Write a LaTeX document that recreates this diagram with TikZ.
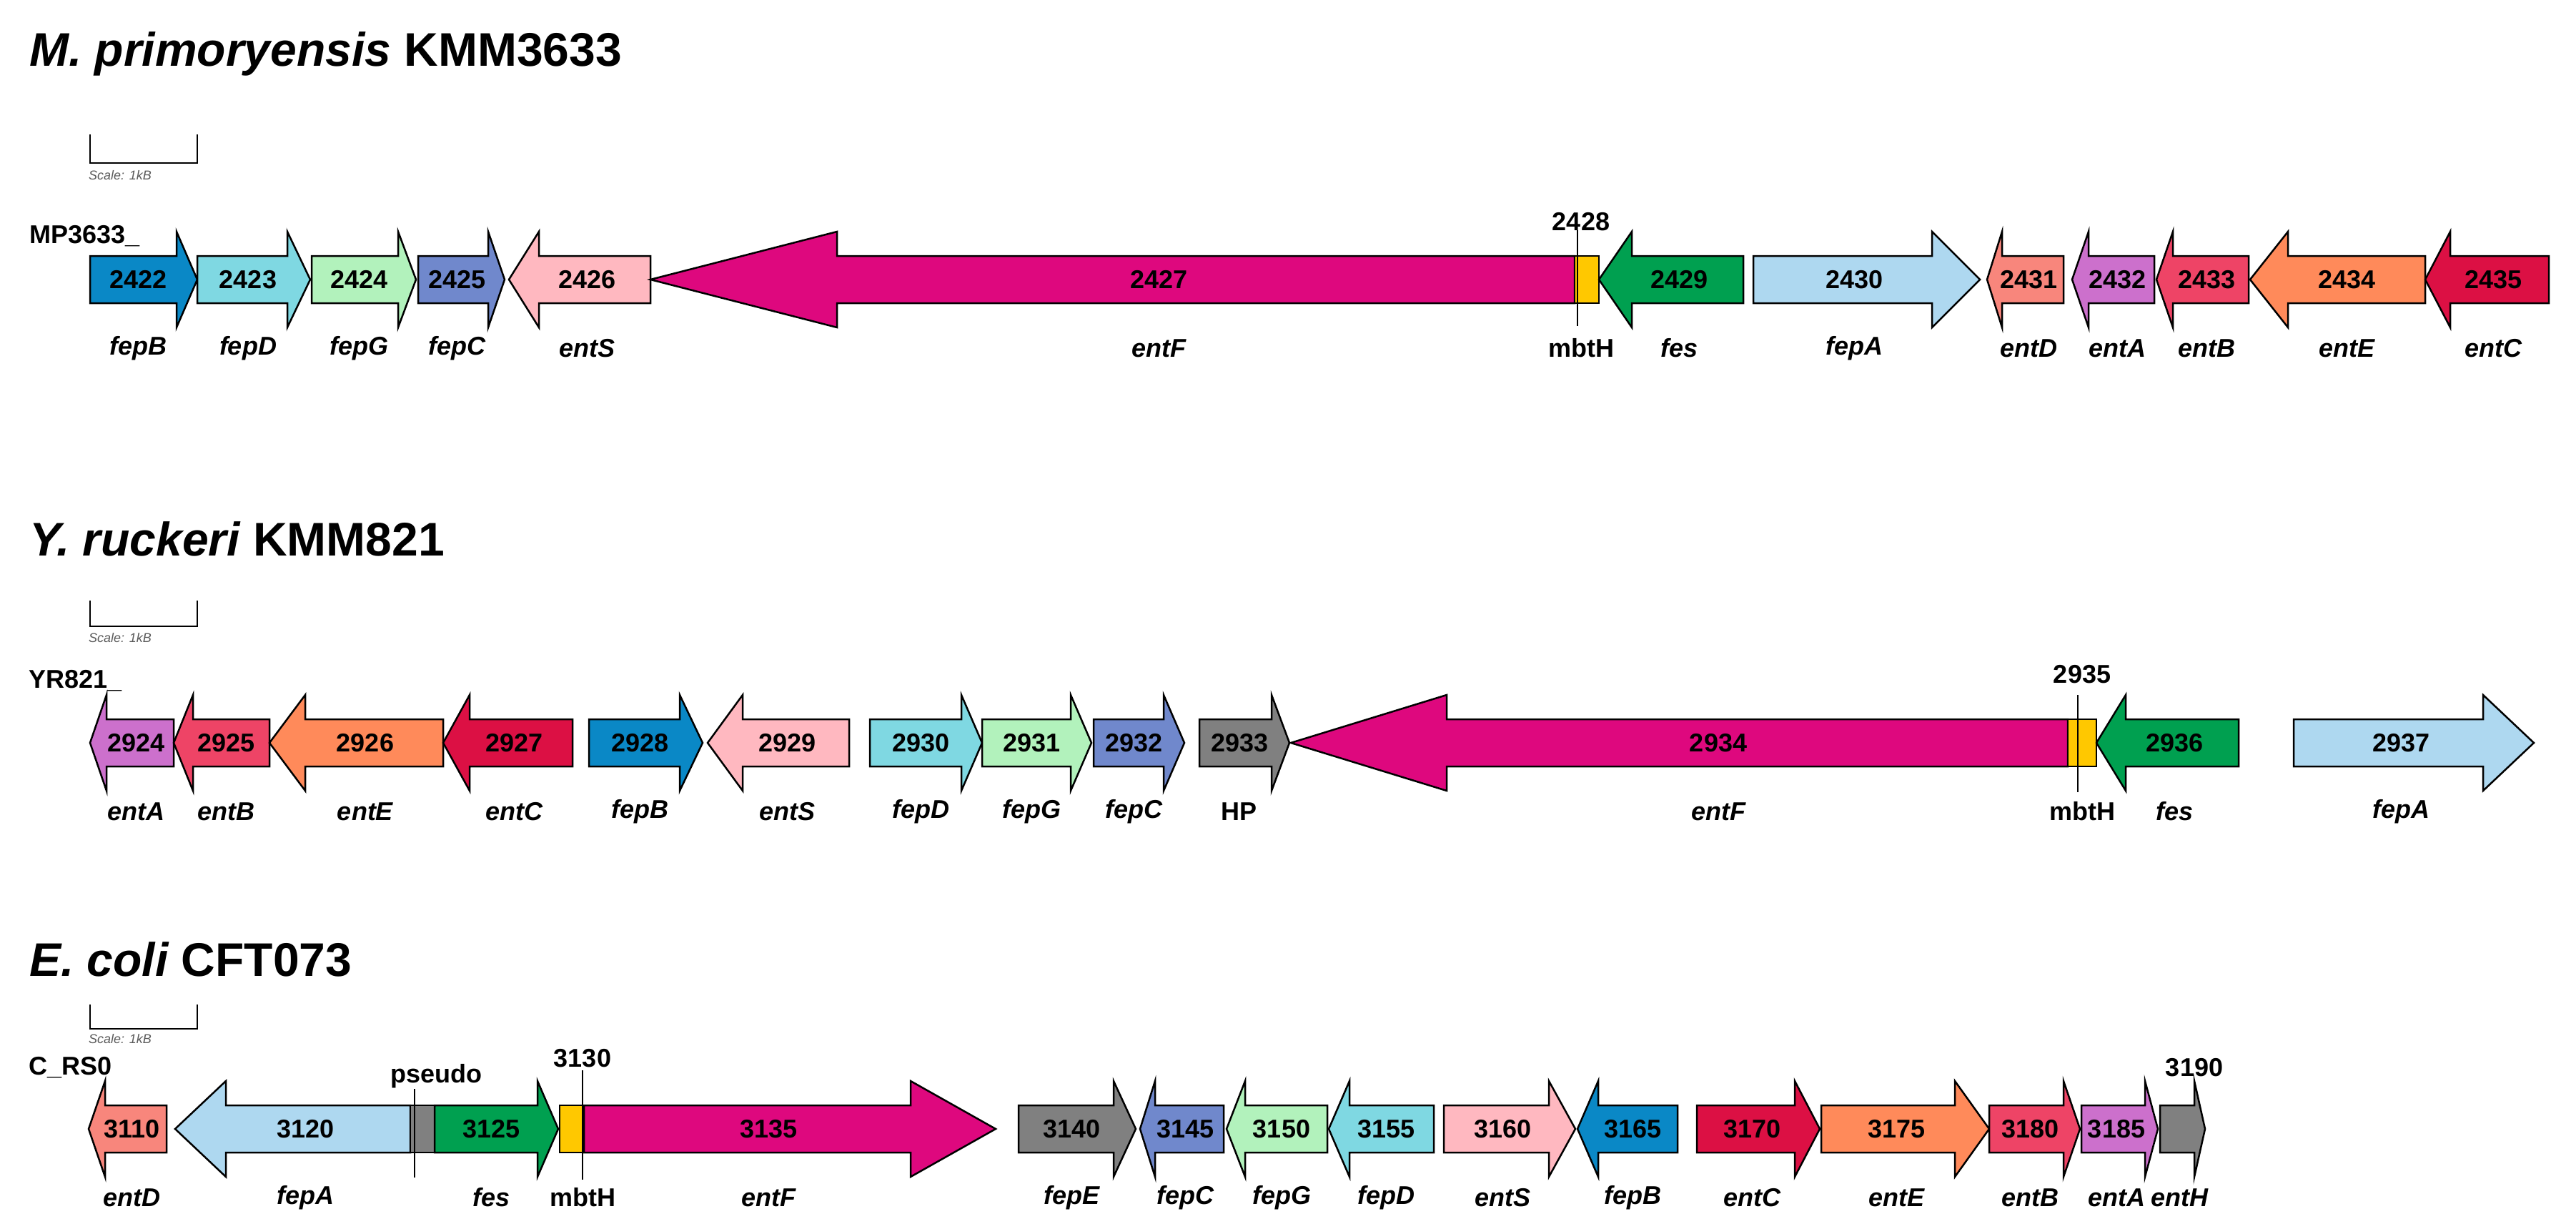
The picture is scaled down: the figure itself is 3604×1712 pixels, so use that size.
\documentclass[tikz,border=0pt]{standalone}
\usepackage{fontspec}
\setmainfont{Liberation Sans}
\definecolor{cfepB}{HTML}{0A88C6}
\definecolor{cfepD}{HTML}{7FD8E2}
\definecolor{cfepG}{HTML}{B2F2BC}
\definecolor{cfepC}{HTML}{7088CC}
\definecolor{centS}{HTML}{FFB8C0}
\definecolor{centF}{HTML}{DE087E}
\definecolor{cmbtH}{HTML}{FFC800}
\definecolor{cfes}{HTML}{00A050}
\definecolor{cfepA}{HTML}{AED8F0}
\definecolor{centD}{HTML}{F8867C}
\definecolor{centA}{HTML}{CC70CC}
\definecolor{centB}{HTML}{EE4466}
\definecolor{centE}{HTML}{FF8A5A}
\definecolor{centC}{HTML}{DC1044}
\definecolor{cgray}{HTML}{808080}
\tikzset{
  gene/.style={draw=black,line width=2.5pt,line join=miter},
  num/.style={font=\fontsize{36}{38}\selectfont\bfseries,inner sep=0pt},
  lab/.style={font=\fontsize{36}{38}\selectfont\bfseries\itshape,inner sep=0pt},
  labu/.style={font=\fontsize{36}{38}\selectfont\bfseries,inner sep=0pt},
  ttl/.style={font=\fontsize{66}{70}\selectfont\bfseries,anchor=west,inner sep=0pt},
  scl/.style={font=\fontsize{18}{20}\selectfont\itshape,text=black!65,anchor=west,inner sep=0pt},
  lead/.style={line width=2pt},
}
% right arrow: start, base, tip, y, colour, number, label
\newcommand{\gr}[7]{%
  \fill[#5,gene] (#1,#4-33) -- (#2,#4-33) -- (#2,#4-67) -- (#3,#4) -- (#2,#4+67) -- (#2,#4+33) -- (#1,#4+33) -- cycle;
  \pgfmathsetmacro{\cx}{((#1+#3)/2+(#1+#2)/2)/2}
  \node[num] at (\cx,#4) {#6};
  \node[lab] at (\cx,#4+96) {#7};}
% left arrow: tip, base, end, y, colour, number, label
\newcommand{\gl}[7]{%
  \fill[#5,gene] (#3,#4-33) -- (#2,#4-33) -- (#2,#4-67) -- (#1,#4) -- (#2,#4+67) -- (#2,#4+33) -- (#3,#4+33) -- cycle;
  \pgfmathsetmacro{\cx}{((#1+#3)/2+(#2+#3)/2)/2}
  \node[num] at (\cx,#4) {#6};
  \node[lab] at (\cx,#4+96) {#7};}
\newcommand{\gbox}[4]{\fill[#4,gene] (#1,#3-33) rectangle (#2,#3+33);}
\newcommand{\scalebar}[3]{%
  \draw[line width=2.5pt] (126,#1) -- (126,#2) -- (276,#2) -- (276,#1);
  \node[scl] at (124,#3) {Scale: 1kB};}
\begin{document}
\begin{tikzpicture}[x=1pt,y=-1pt]
\useasboundingbox (0,0) rectangle (3604,1712);
% ---------- Row 1
\node[ttl] (t1) at (41,75) {\itshape M. primoryensis\upshape\ KMM3633};
\scalebar{188}{228}{245}
\node[labu,anchor=west] (p1) at (41,330) {MP3633\_};
\gr{126}{247}{276}{391}{cfepB}{2422}{fepB}
\gr{276}{402}{434}{391}{cfepD}{2423}{fepD}
\gr{436}{557}{582}{391}{cfepG}{2424}{fepG}
\gr{585}{683}{706}{391}{cfepC}{2425}{fepC}
\gl{712}{754}{910}{391}{centS}{2426}{entS}
\gl{910}{1171}{2203}{391}{centF}{2427}{entF}
\gbox{2203}{2237}{391}{cmbtH}
\draw[lead] (2207,322) -- (2207,456);
\node[num] at (2212,310) {2428};
\node[labu] at (2212,487) {mbtH};
\gl{2237}{2283}{2439}{391}{cfes}{2429}{fes}
\gr{2453}{2703}{2770}{391}{cfepA}{2430}{fepA}
\gl{2780}{2801}{2887}{391}{centD}{2431}{entD}
\gl{2899}{2922}{3014}{391}{centA}{2432}{entA}
\gl{3017}{3040}{3146}{391}{centB}{2433}{entB}
\gl{3148}{3201}{3393}{391}{centE}{2434}{entE}
\gl{3393}{3428}{3566}{391}{centC}{2435}{entC}
% ---------- Row 2
\node[ttl] (t2) at (41,754) {\itshape Y. ruckeri\upshape\ KMM821};
\scalebar{840}{876}{892}
\node[labu,anchor=west] (p2) at (40,952) {YR821\_};
\gl{126}{149}{243}{1039}{centA}{2924}{entA}
\gl{243}{270}{377}{1039}{centB}{2925}{entB}
\gl{377}{427}{620}{1039}{centE}{2926}{entE}
\gl{620}{657}{801}{1039}{centC}{2927}{entC}
\gr{824}{951}{983}{1039}{cfepB}{2928}{fepB}
\gl{990}{1039}{1188}{1039}{centS}{2929}{entS}
\gr{1217}{1345}{1374}{1039}{cfepD}{2930}{fepD}
\gr{1374}{1498}{1527}{1039}{cfepG}{2931}{fepG}
\gr{1530}{1628}{1657}{1039}{cfepC}{2932}{fepC}
\gr{1678}{1779}{1804}{1039}{cgray}{2933}{}
\node[labu] at (1733,1135) {HP};
\gl{1806}{2024}{2893}{1039}{centF}{2934}{entF}
\gbox{2893}{2933}{1039}{cmbtH}
\draw[lead] (2907,972) -- (2907,1108);
\node[num] at (2913,943) {2935};
\node[labu] at (2913,1135) {mbtH};
\gl{2933}{2974}{3132}{1039}{cfes}{2936}{fes}
\gr{3209}{3474}{3545}{1039}{cfepA}{2937}{fepA}
% ---------- Row 3
\node[ttl] (t3) at (41,1342) {\itshape E. coli\upshape\ CFT073};
\scalebar{1405}{1439}{1453}
\node[labu,anchor=west] (p3) at (40,1493) {C\_RS0};
\gl{124}{147}{233}{1579}{centD}{3110}{entD}
\gl{245}{316}{574}{1579}{cfepA}{3120}{fepA}
\gbox{574}{608}{1579}{cgray}
\draw[lead] (580,1523) -- (580,1647);
\node[labu] at (610,1505) {pseudo};
\gr{608}{752}{781}{1579}{cfes}{3125}{fes}
\gbox{783}{817}{1579}{cmbtH}
\draw[lead] (815,1497) -- (815,1650);
\node[num] at (815,1480) {3130};
\node[labu] at (815,1675) {mbtH};
\gr{817}{1274}{1393}{1579}{centF}{3135}{entF}
\gr{1425}{1558}{1589}{1579}{cgray}{3140}{fepE}
\gl{1595}{1616}{1712}{1579}{cfepC}{3145}{fepC}
\gl{1716}{1742}{1857}{1579}{cfepG}{3150}{fepG}
\gl{1859}{1888}{2006}{1579}{cfepD}{3155}{fepD}
\gr{2020}{2167}{2204}{1579}{centS}{3160}{entS}
\gl{2207}{2236}{2347}{1579}{cfepB}{3165}{fepB}
\gr{2374}{2511}{2546}{1579}{centC}{3170}{entC}
\gr{2548}{2735}{2783}{1579}{centE}{3175}{entE}
\gr{2783}{2887}{2910}{1579}{centB}{3180}{entB}
\gr{2912}{3001}{3019}{1579}{centA}{3185}{entA}
\gr{3022}{3070}{3085}{1579}{cgray}{}{entH}
\node[num] at (3070,1493) {3190};
\end{tikzpicture}
\end{document}
